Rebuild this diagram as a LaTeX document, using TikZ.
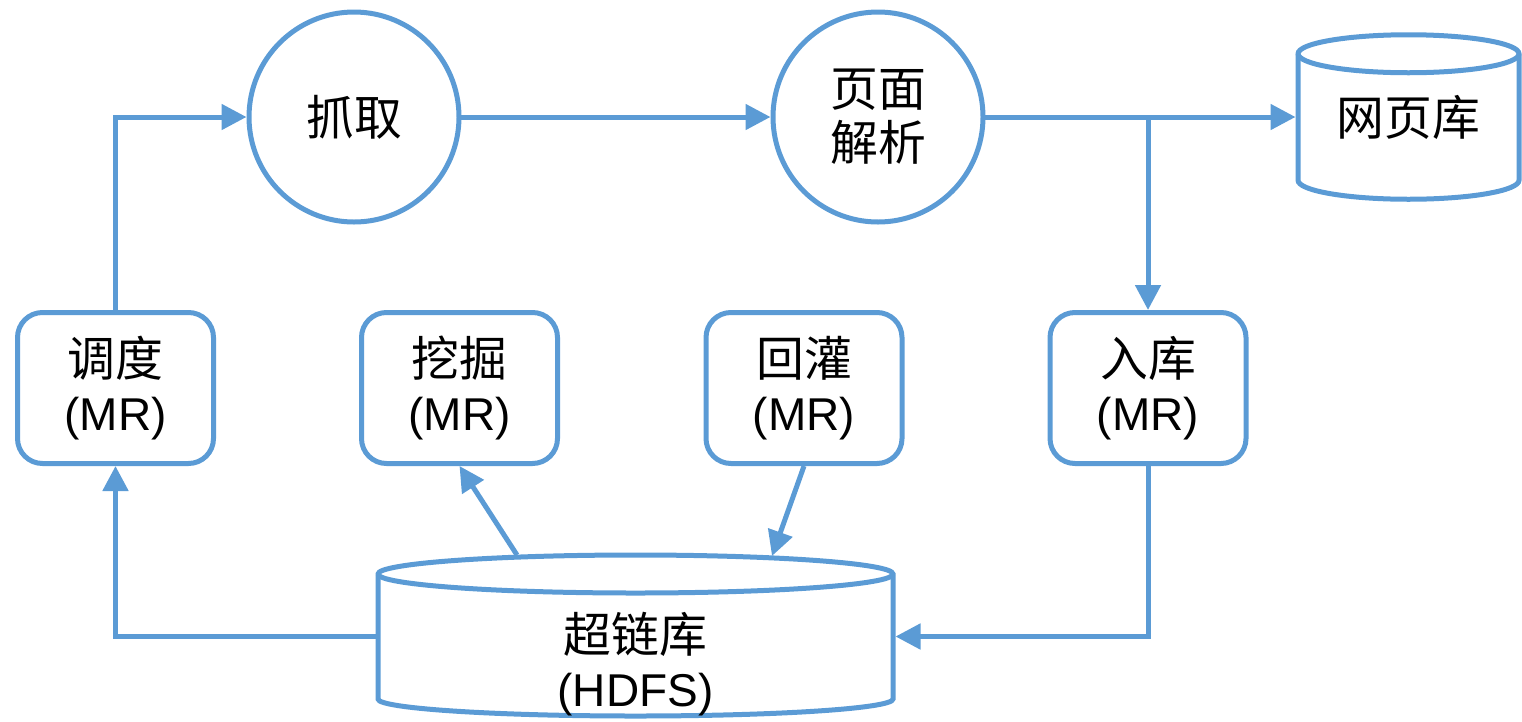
\documentclass[tikz,border=0pt]{standalone}
\usepackage{fontspec}
\setmainfont{Liberation Sans}
\newfontfamily\cjk[Scale=1.04]{Noto Sans CJK SC}
\usetikzlibrary{arrows.meta}
\definecolor{lblue}{RGB}{91,155,213}
\begin{document}
\begin{tikzpicture}[x=1pt,y=1pt,
  every node/.style={font=\fontsize{46}{54}\selectfont, align=center, text=black},
  ln/.style={draw=lblue, line width=5pt},
  arr/.style={ln, -{Triangle[length=25pt,width=25pt]}},
  proc/.style={ln, circle, minimum size=210pt, inner sep=0pt},
  mr/.style={ln, rounded corners=25pt, minimum width=196pt, minimum height=151pt, inner sep=0pt},
  cylbox/.style={rectangle, inner sep=0pt, outer sep=0pt}]
\useasboundingbox (0,-721) rectangle (1522,0);

% process circles
\node[proc] (zq) at (354,-117) {\cjk 抓取};
\node[proc] (ym) at (878,-117) {\cjk 页面\\\cjk 解析};

% MR boxes
\node[mr] (dd) at (115.5,-388) {\cjk 调度\\(MR)};
\node[mr] (wj) at (459.5,-388) {\cjk 挖掘\\(MR)};
\node[mr] (hg) at (804,-388) {\cjk 回灌\\(MR)};
\node[mr] (rk) at (1148,-388) {\cjk 入库\\(MR)};

% web page store cylinder
\node[cylbox, minimum width=221pt, minimum height=126.5pt] (wyk) at (1408.5,-117) {\cjk 网页库};
\draw[ln] (wyk.north west) -- (wyk.south west)
  arc[start angle=180,end angle=360,x radius=110.5pt,y radius=19pt]
  -- (wyk.north east)
  arc[start angle=0,end angle=180,x radius=110.5pt,y radius=19pt] -- cycle;
\draw[ln] (wyk.north west) arc[start angle=180,end angle=360,x radius=110.5pt,y radius=19pt];

% hyperlink store cylinder
\node[cylbox, minimum width=515pt, minimum height=125pt] (clk) at (635.5,-636.5) {};
\draw[ln] (clk.north west) -- (clk.south west)
  arc[start angle=180,end angle=360,x radius=257.5pt,y radius=17pt]
  -- (clk.north east)
  arc[start angle=0,end angle=180,x radius=257.5pt,y radius=19pt] -- cycle;
\draw[ln] (clk.north west) arc[start angle=180,end angle=360,x radius=257.5pt,y radius=19pt];
\node (clkt) at (635.5,-664) {\cjk 超链库\\(HDFS)};

% connectors
\draw[arr] (dd.north) |- (zq.west);
\draw[arr, shorten <=-3pt] (zq) -- (ym);
\draw[arr, shorten <=-3pt, shorten >=2.5pt] (ym.east) -- (wyk.west);
\coordinate (br) at (1148,-117);
\draw[arr] (br) -- (rk.north);
\draw[arr, shorten >=2.5pt] (rk.south) |- (clk.east);
\draw[arr, shorten <=2.5pt] (clk.west) -| (dd.south);
\coordinate (c1) at (517,-555);
\draw[arr] (c1) -- (wj.south);
\coordinate (c2) at (772,-556);
\draw[arr] (hg.south) -- (c2);
\end{tikzpicture}
\end{document}
